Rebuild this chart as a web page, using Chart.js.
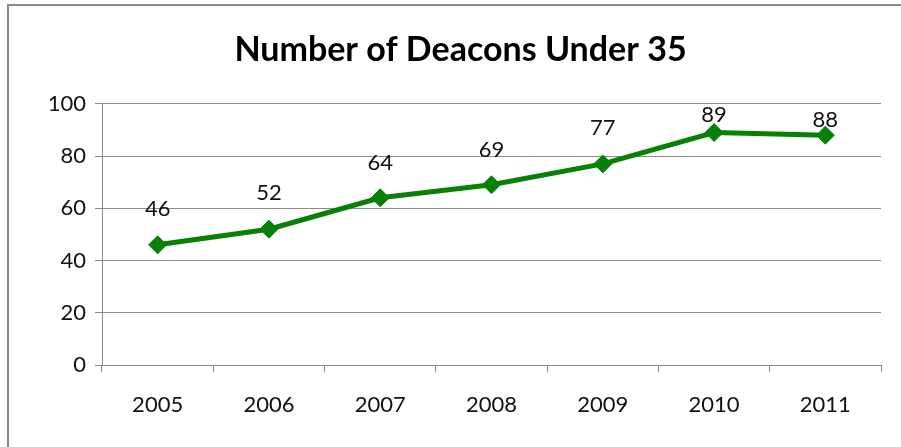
<!DOCTYPE html>
<html>
<head>
<meta charset="utf-8">
<script src="https://cdn.jsdelivr.net/npm/chart.js@4"></script>
<style>
html,body{margin:0;padding:0;background:#fff;overflow:hidden;}
#frame{position:absolute;left:7px;top:4px;width:1000px;height:1000px;border:2px solid #8a8a8a;box-sizing:border-box;}
#wrap{position:absolute;left:0;top:0;width:901px;height:447px;}
</style>
</head>
<body>
<div id="frame"></div>
<div id="wrap"><canvas id="c"></canvas></div>
<script>
const categories = ['2005','2006','2007','2008','2009','2010','2011'];
const deacons = [46, 52, 64, 69, 77, 89, 88];
const yTicks = [0, 20, 40, 60, 80, 100];
const chartTitle = 'Number of Deacons Under 35';

const FONT = 'Lato, "Open Sans", sans-serif';
const GRID = '#8c8c8c';

const labelPlugin = {
  id: 'pointLabels',
  afterDatasetsDraw(chart, args, opts) {
    const ctx = chart.ctx;
    const meta = chart.getDatasetMeta(0);
    ctx.save();
    ctx.font = '22px ' + FONT;
    ctx.fillStyle = '#111';
    ctx.textAlign = 'center';
    ctx.textBaseline = 'middle';
    meta.data.forEach((pt, i) => {
      const off = opts.offsets[i];
      ctx.fillText(String(chart.data.datasets[0].data[i]), pt.x, pt.y - off);
    });
    ctx.restore();
  }
};

new Chart(document.getElementById('c'), {
  type: 'line',
  data: {
    labels: categories,
    datasets: [{
      data: deacons,
      borderColor: '#088008',
      backgroundColor: '#088008',
      borderWidth: 5,
      pointStyle: 'rectRot',
      pointRadius: 9,
      pointHoverRadius: 9,
      pointBorderWidth: 1,
      tension: 0,
      clip: false
    }]
  },
  options: {
    responsive: true,
    maintainAspectRatio: false,
    animation: false,
    events: [],
    layout: { padding: { left: 40, right: 20, top: 0, bottom: 0 } },
    plugins: {
      legend: { display: false },
      tooltip: { enabled: false },
      title: {
        display: true,
        text: chartTitle,
        color: '#000',
        font: { family: FONT, size: 34, weight: 'bold', lineHeight: 1.2 },
        padding: { top: 30, bottom: 33 }
      },
      pointLabels: { offsets: [36, 36, 35, 35, 36, 18, 15] }
    },
    scales: {
      x: {
        offset: true,
        grid: {
          display: true,
          offset: true,
          drawOnChartArea: false,
          drawTicks: true,
          tickLength: 7,
          color: GRID,
          lineWidth: 1
        },
        border: { display: true, color: GRID, width: 1 },
        ticks: {
          color: '#111',
          font: { family: FONT, size: 22 },
          padding: 20,
          maxRotation: 0
        },
        afterFit(scale) { scale.height = 82; }
      },
      y: {
        min: 0,
        max: 100,
        afterBuildTicks(scale) { scale.ticks = yTicks.map(v => ({ value: v })); },
        grid: {
          color: GRID,
          lineWidth: 1,
          drawTicks: true,
          tickLength: 7
        },
        border: { display: true, color: GRID, width: 1 },
        ticks: {
          color: '#111',
          font: { family: FONT, size: 22 },
          padding: 9
        },
        afterFit(scale) { scale.width = 62; }
      }
    }
  },
  plugins: [labelPlugin]
});
</script>
</body>
</html>
